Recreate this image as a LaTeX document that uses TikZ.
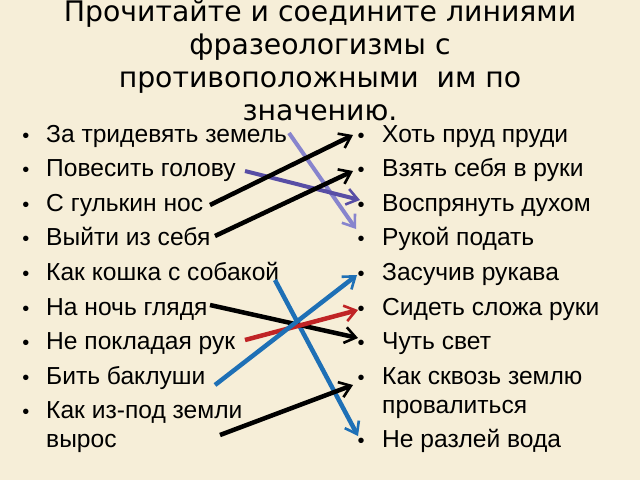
\documentclass[tikz,border=0pt]{standalone}
\usepackage{fontspec}
\setmainfont{Liberation Sans}
\newfontfamily\titlefont{DejaVu Sans}
\usetikzlibrary{arrows.meta}
\definecolor{bg}{RGB}{246,238,216}
\definecolor{lav}{RGB}{135,132,205}
\definecolor{dpurp}{RGB}{88,78,165}
\definecolor{cblue}{RGB}{30,112,182}
\definecolor{cred}{RGB}{192,36,38}
\begin{document}
\begin{tikzpicture}[x=1pt,y=-1pt,
  item/.style={anchor=base west, inner sep=0pt, font=\fontsize{24.6}{29}\selectfont},
  bul/.style={anchor=base, inner sep=0pt, font=\fontsize{20}{24}\selectfont},
  ttl/.style={anchor=base, inner sep=0pt, font=\titlefont\fontsize{28.3}{33}\selectfont},
  conn/.style={line width=4.5pt, -{Straight Barb[length=11pt,width=16pt,line width=2.6pt]}}]
\fill[bg] (0,0) rectangle (640,480);
\useasboundingbox (0,0) rectangle (640,480);
% title
\node[ttl] (t1) at (320,21) {Прочитайте и соедините линиями};
\node[ttl] (t2) at (320,54) {фразеологизмы с};
\node[ttl] (t3) at (320,87) {противоположными~~им по};
\node[ttl] (t4) at (320,120) {значению.};
% left column
\foreach \i/\y in {1/142,2/176.6,3/211.2,4/245.8,5/280.4,6/315,7/349.6,8/384.2,9/418.8}
  \node[bul] (lb\i) at (26,\y) {•};
\node[item] (l1) at (46,142) {За тридевять земель};
\node[item] (l2) at (46,176.6) {Повесить голову};
\node[item] (l3) at (46,211.2) {С гулькин нос};
\node[item] (l4) at (46,245.8) {Выйти из себя};
\node[item] (l5) at (46,280.4) {Как кошка с собакой};
\node[item] (l6) at (46,315) {На ночь глядя};
\node[item] (l7) at (46,349.6) {Не покладая рук};
\node[item] (l8) at (46,384.2) {Бить баклуши};
\node[item] (l9) at (46,418.8) {Как из-под земли};
\node[item] (l9b) at (46,447.8) {вырос};
% right column
\foreach \i/\y in {1/142,2/176.6,3/211.2,4/245.8,5/280.4,6/315,7/349.6,8/384.2,9/447.8}
  \node[bul] (rb\i) at (361,\y) {•};
\node[item] (r1) at (382,142) {Хоть пруд пруди};
\node[item] (r2) at (382,176.6) {Взять себя в руки};
\node[item] (r3) at (382,211.2) {Воспрянуть духом};
\node[item] (r4) at (382,245.8) {Рукой подать};
\node[item] (r5) at (382,280.4) {Засучив рукава};
\node[item] (r6) at (382,315) {Сидеть сложа руки};
\node[item] (r7) at (382,349.6) {Чуть свет};
\node[item] (r8) at (382,384.2) {Как сквозь землю};
\node[item] (r8b) at (382,413.2) {провалиться};
\node[item] (r9) at (382,447.8) {Не разлей вода};
% connector ends
\coordinate (s1) at (289,133); \coordinate (e1) at (356,229);
\coordinate (s2) at (245,171); \coordinate (e2) at (360,200);
\coordinate (s3) at (210,205); \coordinate (e3) at (353,135);
\coordinate (s4) at (215,236); \coordinate (e4) at (353,171);
\coordinate (s5) at (275,280); \coordinate (e5) at (358,436);
\coordinate (s6) at (210,305); \coordinate (e6) at (358,338);
\coordinate (s7) at (245,340); \coordinate (e7) at (358,310);
\coordinate (s8) at (215,385); \coordinate (e8) at (357,275);
\coordinate (s9) at (220,435); \coordinate (e9) at (353,385);
% connectors
\draw[conn, lav, line width=4pt] (s1) -- (e1);
\draw[conn, dpurp, line width=4pt] (s2) -- (e2);
\draw[conn, black] (s3) -- (e3);
\draw[conn, black] (s4) -- (e4);
\draw[conn, cblue] (s5) -- (e5);
\draw[conn, black] (s6) -- (e6);
\draw[conn, cred] (s7) -- (e7);
\draw[conn, cblue] (s8) -- (e8);
\draw[conn, black] (s9) -- (e9);
\end{tikzpicture}
\end{document}
